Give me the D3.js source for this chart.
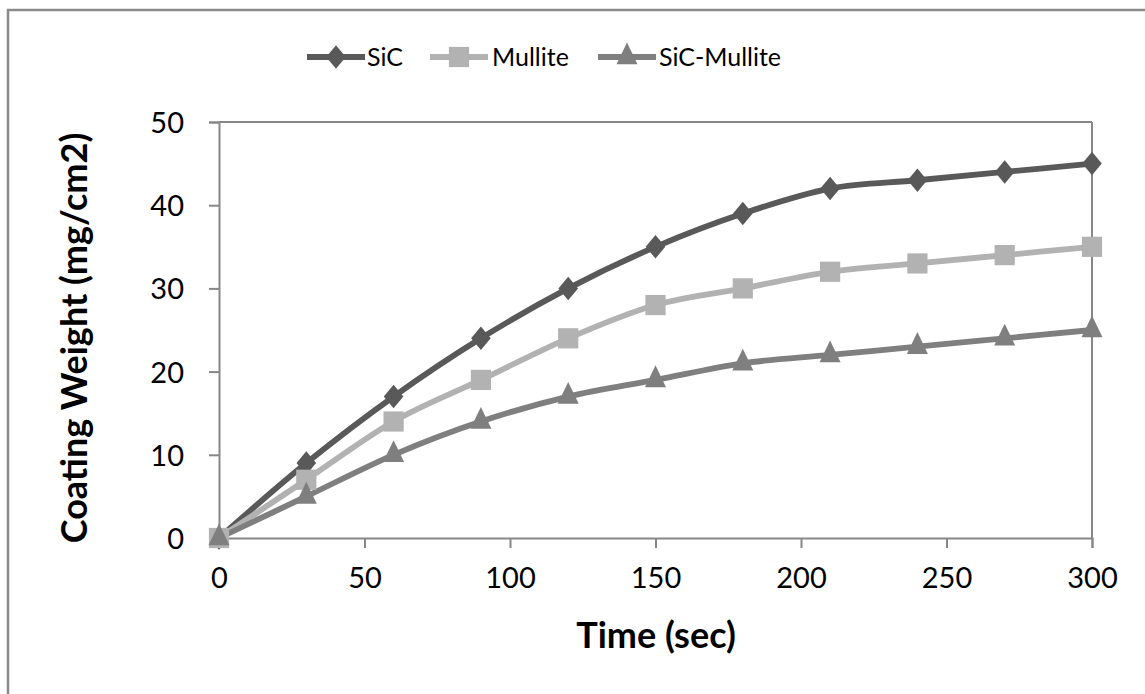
<!DOCTYPE html>
<html><head><meta charset="utf-8">
<script src="https://cdn.jsdelivr.net/npm/d3@7"></script>
<style>
html,body{margin:0;padding:0;background:#fff;overflow:hidden;}
text{font-family:Lato,"Open Sans",sans-serif;fill:#000;}
</style></head>
<body>
<svg id="chart" width="1145" height="694"></svg>
<script>
const times = [0, 30, 60, 90, 120, 150, 180, 210, 240, 270, 300];
const sic = [0, 9, 17, 24, 30, 35, 39, 42, 43, 44, 45];
const mullite = [0, 7, 14, 19, 24, 28, 30, 32, 33, 34, 35];
const sicMullite = [0, 5, 10, 14, 17, 19, 21, 22, 23, 24, 25];
const seriesNames = ["SiC", "Mullite", "SiC-Mullite"];
const xTicks = [0, 50, 100, 150, 200, 250, 300];
const yTicks = [0, 10, 20, 30, 40, 50];
const xTitle = "Time (sec)";
const yTitle = "Coating Weight (mg/cm2)";

const colors = ["#595959", "#b2b2b2", "#7f7f7f"];
const symbols = [d3.symbolDiamond2, d3.symbolSquare2, d3.symbolTriangle2];
const symSize = [245, 520, 316];
const symScaleY = [1.2, 1, 1.2];
const seriesData = [sic, mullite, sicMullite];

const svg = d3.select("#chart");
const axisColor = "#878787";

// outer frame (only top/left visible)
svg.append("rect").attr("x", 8).attr("y", 10).attr("width", 1300).attr("height", 900)
  .attr("fill", "none").attr("stroke", "#8a8a8a").attr("stroke-width", 2.5);

const pL = 219, pR = 1092, pT = 122, pB = 538;
const x = d3.scaleLinear().domain([0, 300]).range([pL, pR]);
const y = d3.scaleLinear().domain([0, 50]).range([pB, pT]);

// plot border top/right
svg.append("line").attr("x1", pL).attr("x2", pR).attr("y1", pT).attr("y2", pT)
  .attr("stroke", axisColor).attr("stroke-width", 2);
svg.append("line").attr("x1", pR).attr("x2", pR).attr("y1", pT).attr("y2", pB)
  .attr("stroke", axisColor).attr("stroke-width", 2);

const xAxis = svg.append("g").attr("transform", `translate(0,${pB})`)
  .call(d3.axisBottom(x).tickValues(xTicks).tickSize(10).tickPadding(19).tickFormat(d3.format("d")));
const yAxis = svg.append("g").attr("transform", `translate(${pL},0)`)
  .call(d3.axisLeft(y).tickValues(yTicks).tickSize(10).tickPadding(25).tickFormat(d3.format("d")));
[xAxis, yAxis].forEach(g => {
  g.select(".domain").attr("stroke", axisColor).attr("stroke-width", 2);
  g.selectAll(".tick line").attr("stroke", axisColor).attr("stroke-width", 2);
  g.selectAll(".tick text").attr("font-family", "Lato, sans-serif").attr("font-size", 29).attr("fill", "#000");
});
yAxis.selectAll(".tick text").attr("dy", "0.36em");

// titles
svg.append("text").attr("x", 656).attr("y", 648).attr("text-anchor", "middle")
  .attr("font-size", 36).attr("font-weight", "bold").text(xTitle);
svg.append("text").attr("transform", "translate(87,338) rotate(-90)").attr("text-anchor", "middle")
  .attr("font-size", 36).attr("font-weight", "bold").text(yTitle);

// lines
const line = d3.line().x((d, i) => x(times[i])).y(d => y(d)).curve(d3.curveCardinal.tension(0));
seriesData.forEach((s, k) => {
  svg.append("path").datum(s).attr("d", line).attr("fill", "none")
    .attr("stroke", colors[k]).attr("stroke-width", 5.8);
});
seriesData.forEach((s, k) => {
  svg.append("g").selectAll("path").data(s).join("path")
    .attr("transform", (d, i) => `translate(${x(times[i])},${y(d)}) scale(1,${symScaleY[k]})`)
    .attr("d", d3.symbol().type(symbols[k]).size(symSize[k]))
    .attr("fill", colors[k]);
});

// legend
const legendItems = [
  {x: 307, tx: 367},
  {x: 430, tx: 492},
  {x: 598, tx: 659}
];
const ly = 57;
legendItems.forEach((it, k) => {
  const g = svg.append("g");
  g.append("line").attr("x1", it.x).attr("x2", it.x + 58).attr("y1", ly).attr("y2", ly)
    .attr("stroke", colors[k]).attr("stroke-width", 5.8);
  g.append("path").attr("transform", `translate(${it.x + 29},${ly}) scale(1,${symScaleY[k]})`)
    .attr("d", d3.symbol().type(symbols[k]).size(symSize[k])).attr("fill", colors[k]);
  g.append("text").attr("x", it.tx).attr("y", ly).attr("dy", "0.36em")
    .attr("font-size", 25).text(seriesNames[k]);
});
</script>
</body></html>
